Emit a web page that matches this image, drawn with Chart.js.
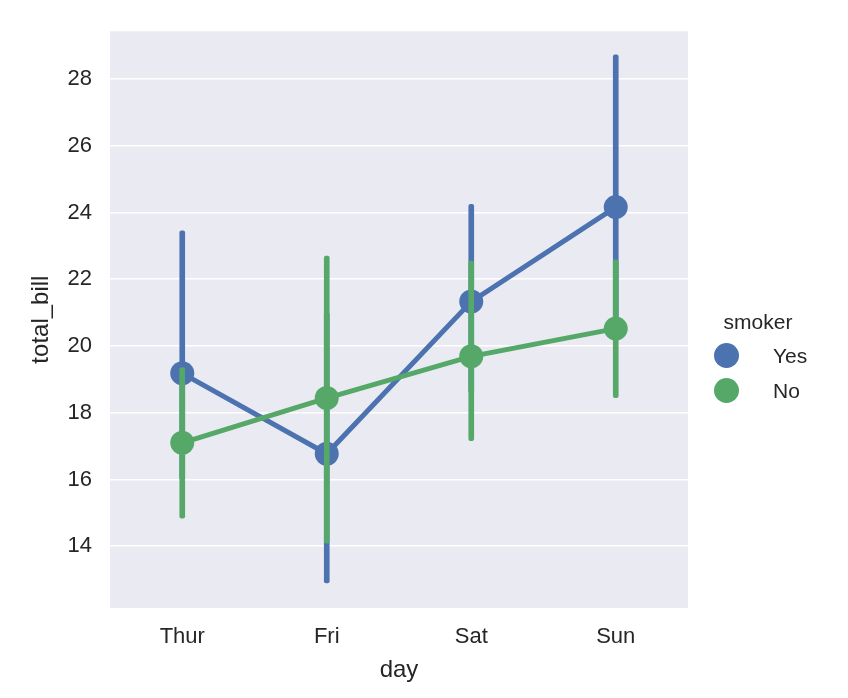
<!DOCTYPE html>
<html>
<head>
<meta charset="utf-8">
<script src="https://cdn.jsdelivr.net/npm/chart.js@4/dist/chart.umd.min.js"></script>
<style>
  body { margin: 0; background: #fff; }
  #wrap { position: relative; width: 848px; height: 698px; }
  #legend { position: absolute; left: 708px; top: 306px; font-family: "Liberation Sans", Arial, sans-serif; color: #262626; font-size: 21px; }
  #legend .title { width: 100px; text-align: center; height: 32px; line-height: 32px; }
  #legend .item { height: 35px; display: flex; align-items: center; }
  #legend .dot { width: 25px; height: 25px; border-radius: 50%; margin-left: 6px; margin-right: 34px; }
</style>
</head>
<body>
<div id="wrap">
  <canvas id="chart" width="848" height="698"></canvas>
  <div id="legend"></div>
</div>
<script>
// categories and series
const days = ["Thur", "Fri", "Sat", "Sun"];
const smokerLevels = ["Yes", "No"];
const smokerColors = ["#4C72B0", "#55A868"];

// mean total_bill per day
const yesMean = [19.18, 16.77, 21.33, 24.16];
const noMean = [17.10, 18.44, 19.69, 20.52];

// confidence interval ends
const yesLow = [16.0, 12.9, 18.6, 20.8];
const yesHigh = [23.45, 21.0, 24.24, 28.72];
const noLow = [14.84, 14.09, 17.16, 18.45];
const noHigh = [19.35, 22.69, 22.54, 22.58];

const yTicks = [14, 16, 18, 20, 22, 24, 26, 28];

const FONT = "'Liberation Sans', Arial, sans-serif";
const TEXT = "#262626";

// gray plot background
const bgPlugin = {
    id: "plotBg",
    beforeDraw(chart) {
        const { ctx, chartArea } = chart;
        ctx.save();
        ctx.fillStyle = "#EAEAF2";
        ctx.fillRect(chartArea.left, chartArea.top, chartArea.right - chartArea.left, chartArea.bottom - chartArea.top);
        ctx.restore();
    }
};

function errBars(low, high) {
    return low.map((v, i) => [v, high[i]]);
}

const ctx = document.getElementById("chart").getContext("2d");

new Chart(ctx, {
    data: {
        labels: days,
        datasets: [{
            type: "bar",
            label: "Yes ci",
            data: errBars(yesLow, yesHigh),
            backgroundColor: smokerColors[0],
            barThickness: 5,
            grouped: false,
            borderRadius: 2,
            borderSkipped: false,
            order: 4
        }, {
            type: "line",
            label: smokerLevels[0],
            data: yesMean,
            borderColor: smokerColors[0],
            backgroundColor: smokerColors[0],
            borderWidth: 5,
            pointRadius: 12,
            pointBorderWidth: 0,
            pointHoverRadius: 12,
            tension: 0,
            order: 3
        }, {
            type: "bar",
            label: "No ci",
            data: errBars(noLow, noHigh),
            backgroundColor: smokerColors[1],
            barThickness: 5,
            grouped: false,
            borderRadius: 2,
            borderSkipped: false,
            order: 2
        }, {
            type: "line",
            label: smokerLevels[1],
            data: noMean,
            borderColor: smokerColors[1],
            backgroundColor: smokerColors[1],
            borderWidth: 5,
            pointRadius: 12,
            pointBorderWidth: 0,
            pointHoverRadius: 12,
            tension: 0,
            order: 1
        }]
    },
    options: {
        responsive: false,
        animation: false,
        layout: {
            padding: { left: 0, top: 28, right: 160, bottom: 0 }
        },
        scales: {
            x: {
                type: "category",
                offset: true,
                grid: { display: false, drawTicks: false },
                border: { display: false },
                ticks: {
                    color: TEXT,
                    font: { family: FONT, size: 22 },
                    padding: 16
                },
                title: {
                    display: true,
                    text: "day",
                    color: TEXT,
                    font: { family: FONT, size: 24 },
                    padding: { top: 0, bottom: 13 }
                },
                afterFit(scale) { scale.height = 90; }
            },
            y: {
                min: 12.15,
                max: 29.43,
                afterBuildTicks(scale) {
                    scale.ticks = yTicks.map(v => ({ value: v }));
                },
                grid: {
                    color: "#ffffff",
                    lineWidth: 1.5,
                    drawTicks: false
                },
                border: { display: false },
                ticks: {
                    color: TEXT,
                    font: { family: FONT, size: 22 },
                    padding: 18
                },
                title: {
                    display: true,
                    text: "total_bill",
                    color: TEXT,
                    font: { family: FONT, size: 24 },
                    padding: { top: 27, bottom: 0 }
                },
                afterFit(scale) { scale.width = 110; }
            }
        },
        plugins: {
            legend: { display: false },
            tooltip: { enabled: false }
        }
    },
    plugins: [bgPlugin]
});

// legend built from the series names and colours
const legend = document.getElementById("legend");
legend.innerHTML = '<div class="title">smoker</div>' + smokerLevels.map((name, i) =>
    '<div class="item"><span class="dot" style="background:' + smokerColors[i] + '"></span>' + name + '</div>'
).join("");
</script>
</body>
</html>
